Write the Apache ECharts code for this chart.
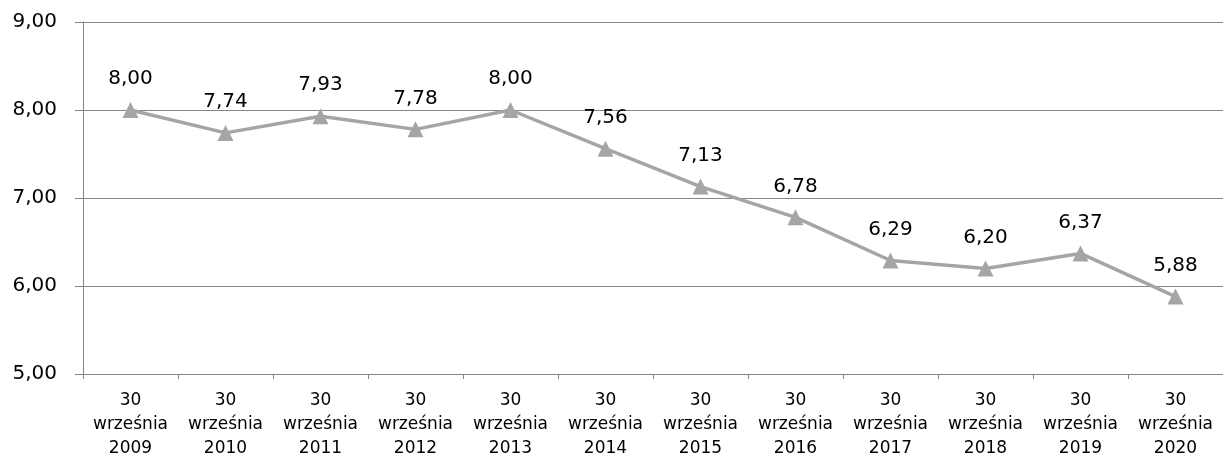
<!DOCTYPE html>
<html>
<head>
<meta charset="utf-8">
<script src="https://cdn.jsdelivr.net/npm/echarts@6/dist/echarts.min.js"></script>
<style>
  html, body { margin: 0; padding: 0; background: #fff; }
  #content { width: 1223px; height: 464px; }
</style>
</head>
<body>
<div id="content"></div>
<script>
// dane z wykresu
var years = ['2009', '2010', '2011', '2012', '2013', '2014', '2015', '2016', '2017', '2018', '2019', '2020'];
var values = [8.00, 7.74, 7.93, 7.78, 8.00, 7.56, 7.13, 6.78, 6.29, 6.20, 6.37, 5.88];
var yTicks = [5, 6, 7, 8, 9];

var categories = years.map(function (y) { return '30\nwrześnia\n' + y; });
var fmt = function (v) { return v.toFixed(2).replace('.', ','); };
var font = '"DejaVu Sans", sans-serif';

var myChart = echarts.init(document.getElementById('content'));
var option = {
    animation: false,
    grid: {
        left: 83,
        top: 22,
        width: 1144,
        height: 352,
        containLabel: false
    },
    xAxis: {
        type: 'category',
        data: categories,
        boundaryGap: true,
        axisLine: { lineStyle: { color: '#868686', width: 1 } },
        axisTick: { show: true, length: 5, lineStyle: { color: '#868686' } },
        axisLabel: {
            color: '#000',
            fontFamily: font,
            fontSize: 17,
            lineHeight: 24,
            margin: 15,
            interval: 0
        }
    },
    yAxis: {
        type: 'value',
        min: yTicks[0],
        max: yTicks[yTicks.length - 1],
        interval: 1,
        axisLine: { show: true, lineStyle: { color: '#868686', width: 1 } },
        axisTick: { show: true, length: 8, lineStyle: { color: '#868686' } },
        splitLine: { show: true, lineStyle: { color: '#868686', width: 1 } },
        axisLabel: {
            color: '#000',
            fontFamily: font,
            fontSize: 20,
            margin: 26,
            formatter: function (v) { return fmt(v); }
        }
    },
    series: [
        {
            type: 'line',
            data: values,
            symbol: 'triangle',
            symbolSize: 16,
            lineStyle: { color: '#A5A5A5', width: 3.5 },
            itemStyle: { color: '#A5A5A5' },
            label: {
                show: true,
                position: 'top',
                distance: 13,
                color: '#000',
                fontFamily: font,
                fontSize: 20,
                formatter: function (p) { return fmt(p.value); }
            }
        }
    ]
};
myChart.setOption(option);
</script>
</body>
</html>
